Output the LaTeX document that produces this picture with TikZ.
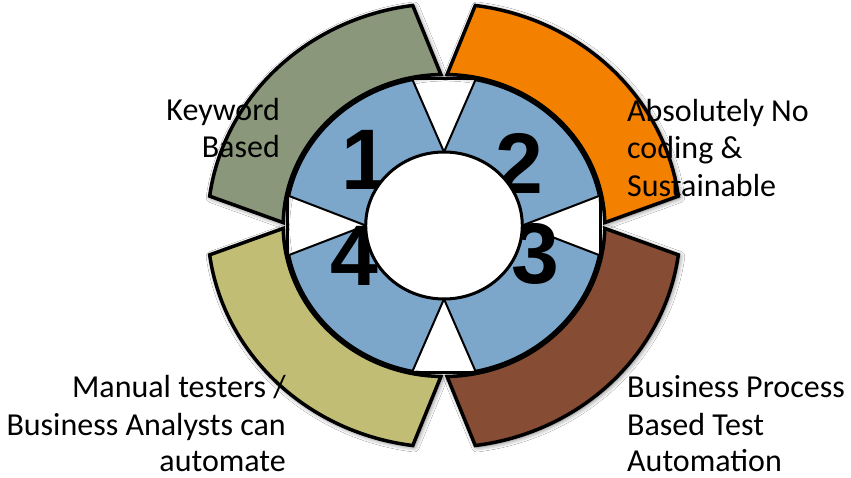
\documentclass[tikz,border=0pt]{standalone}
\usepackage{fontspec}
\setmainfont{Carlito}
\newfontfamily\numfont{Liberation Sans}
\usetikzlibrary{shadows.blur}
\definecolor{segGreen}{RGB}{139,151,122}
\definecolor{segOrange}{RGB}{244,128,0}
\definecolor{segBrown}{RGB}{134,76,52}
\definecolor{segOlive}{RGB}{194,189,117}
\definecolor{segBlue}{RGB}{124,167,203}
\newcommand\outerpiece[3]{%
  \path[outerseg, fill=#1] (#2+1.1:151pt) -- (#2+7.6:222pt)
    arc[start angle=#2+7.6, end angle=#3-7.6, radius=222pt]
    -- (#3-1.1:151pt)
    arc[start angle=#3-1.1, end angle=#2+1.1, radius=151pt] -- cycle;}
\newcommand\innerpiece[2]{%
  \path[innerseg] (#1:73.5pt) -- (#1+11.5:149pt)
    arc[start angle=#1+11.5, end angle=#2-11.5, radius=149pt]
    -- (#2:73.5pt)
    arc[start angle=#2, end angle=#1, radius=73.5pt] -- cycle;
  \draw[line width=3.5pt] (#1+11.5:149pt)
    arc[start angle=#1+11.5, end angle=#2-11.5, radius=149pt];}
\newcommand\notchbar[1]{%
  \draw[notchbase] (#1-11.8:150pt) -- (#1+11.8:150pt);}
\begin{document}
\begin{tikzpicture}[x=1pt,y=-1pt,
  outerseg/.style={draw=black, line width=3.5pt,
    blur shadow={shadow xshift=1.5pt, shadow yshift=-1.5pt, shadow blur radius=5pt, shadow opacity=60}},
  innerseg/.style={draw=black, fill=segBlue, line width=2pt},
  notchbase/.style={draw=black, line width=3.5pt},
  hub/.style={draw=black, fill=white, line width=3pt},
  digit/.style={font=\numfont\bfseries\fontsize{86}{86}\selectfont, inner sep=0pt},
  lbl/.style={font=\fontsize{32}{38}\selectfont, inner sep=0pt}]
\useasboundingbox (0,0) rectangle (851,478);
\fill[white] (0,0) rectangle (851,478);
\begin{scope}[shift={(444,225.5)}, xscale=1.065]
  \outerpiece{segGreen}{90}{180}
  \outerpiece{segOrange}{0}{90}
  \outerpiece{segBrown}{-90}{0}
  \outerpiece{segOlive}{180}{270}
  \innerpiece{90}{180}
  \innerpiece{0}{90}
  \innerpiece{-90}{0}
  \innerpiece{180}{270}
  \notchbar{90}
  \notchbar{0}
  \notchbar{-90}
  \notchbar{180}
\end{scope}
\node[digit] (d1) at (365,160) {1};
\node[digit] (d2) at (519,163) {2};
\node[digit] (d3) at (535,254) {3};
\node[digit] (d4) at (354,256) {4};
\begin{scope}[shift={(444,225.5)}, xscale=1.065]
  \path[hub] (0,0) circle[radius=73.5pt];
\end{scope}
\node[lbl, anchor=base east] (k1) at (280,121) {Keyword};
\node[lbl, anchor=base east] (k2) at (280,158) {Based};
\node[lbl, anchor=base west] (a1) at (627,122) {Absolutely No};
\node[lbl, anchor=base west] (a2) at (627,159) {coding \&};
\node[lbl, anchor=base west] (a3) at (627,197) {Sustainable};
\node[lbl, anchor=base east] (m1) at (286,397) {Manual testers /};
\node[lbl, anchor=base east] (m2) at (286,435) {Business Analysts can};
\node[lbl, anchor=base east] (m3) at (286,471) {automate};
\node[lbl, anchor=base west] (b1) at (627,397) {Business Process};
\node[lbl, anchor=base west] (b2) at (627,435) {Based Test};
\node[lbl, anchor=base west] (b3) at (627,471) {Automation};
\end{tikzpicture}
\end{document}
